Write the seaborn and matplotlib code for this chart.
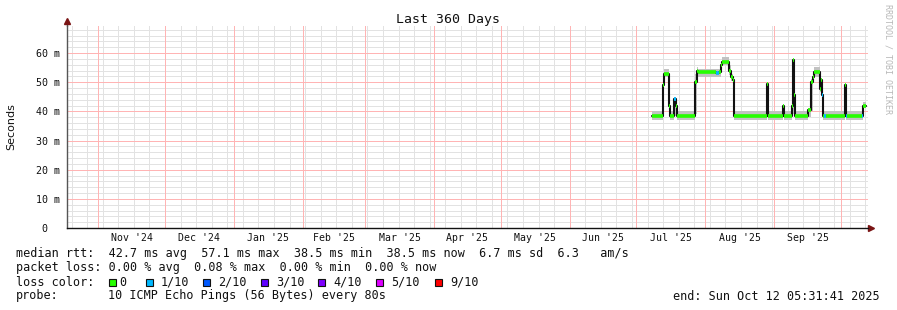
import numpy as np
import pandas as pd
import matplotlib
matplotlib.use("Agg")
import matplotlib.pyplot as plt
import matplotlib.dates as mdates
from matplotlib.transforms import blended_transform_factory
from matplotlib.patches import Rectangle
import seaborn as sns

# ---------------- data ----------------
sample_times = [
    "2025-07-07 21:00", "2025-07-12 18:00", "2025-07-13 10:00", "2025-07-15 19:00",
    "2025-07-16 03:00", "2025-07-18 01:00", "2025-07-18 14:00", "2025-07-19 01:00",
    "2025-07-27 08:00", "2025-07-28 01:00", "2025-07-28 17:00", "2025-08-05 19:00",
    "2025-08-07 04:00", "2025-08-07 20:00", "2025-08-08 12:00", "2025-08-11 10:00",
    "2025-08-12 08:00", "2025-08-13 05:00", "2025-08-13 21:00", "2025-08-28 12:00",
    "2025-08-28 23:00", "2025-09-04 20:00", "2025-09-05 07:00", "2025-09-08 21:00",
    "2025-09-09 11:00", "2025-09-10 00:00", "2025-09-10 11:00", "2025-09-16 07:00",
    "2025-09-17 10:00", "2025-09-18 08:00", "2025-09-19 00:00", "2025-09-21 11:00",
    "2025-09-21 22:00", "2025-09-22 09:00", "2025-09-22 19:00", "2025-09-23 12:00",
    "2025-09-24 06:00", "2025-10-02 14:00", "2025-10-03 01:00", "2025-10-03 18:00",
    "2025-10-10 06:00", "2025-10-10 20:00", "2025-10-11 02:00", "2025-10-12 05:30",
]
median_ms = [
    38.5, 49.0, 53.0, 42.0,
    38.5, 44.4, 42.0, 38.5,
    50.0, 53.8, 53.5, 53.3,
    53.5, 55.8, 57.0, 54.0,
    51.8, 50.7, 38.5, 49.5,
    38.5, 42.0, 38.5, 42.0,
    57.5, 45.5, 38.5, 40.4,
    50.1, 51.8, 53.5, 47.8,
    50.7, 45.5, 38.5, 38.5,
    38.5, 49.0, 38.5, 38.5,
    38.5, 38.5, 42.0, 42.0,
]
smoke_lo_ms = [
    37.0, 38.0, 51.8, 38.0,
    37.0, 38.5, 38.5, 37.0,
    39.0, 51.8, 51.8, 51.8,
    51.8, 54.0, 56.0, 52.5,
    50.5, 49.5, 37.0, 38.5,
    37.0, 38.5, 37.0, 38.5,
    39.0, 38.5, 37.0, 38.0,
    40.0, 50.0, 51.8, 46.5,
    46.0, 39.0, 37.0, 37.0,
    37.0, 38.5, 37.0, 37.0,
    37.0, 37.0, 41.0, 41.0,
]
smoke_hi_ms = [
    40.2, 53.0, 54.5, 53.0,
    40.2, 45.0, 43.0, 40.2,
    53.0, 55.2, 54.7, 54.7,
    54.7, 57.0, 58.5, 56.0,
    53.0, 52.0, 40.2, 50.0,
    40.2, 42.5, 40.2, 42.5,
    58.0, 46.0, 40.2, 41.0,
    51.0, 53.0, 55.2, 53.0,
    51.5, 46.5, 40.2, 40.2,
    40.2, 49.5, 40.2, 40.2,
    40.2, 40.2, 43.3, 43.3,
]
loss_level = [
    0, 0, 0, 0,
    0, 1, 0, 0,
    0, 0, 0, 1,
    0, 0, 0, 0,
    0, 0, 0, 0,
    0, 0, 0, 0,
    0, 0, 0, 0,
    0, 0, 0, 0,
    0, 1, 0, 1,
    0, 0, 1, 0,
    1, 0, 0, 0,
]

month_labels = ["Nov '24", "Dec '24", "Jan '25", "Feb '25", "Mar '25", "Apr '25",
                "May '25", "Jun '25", "Jul '25", "Aug '25", "Sep '25"]
month_starts = ["2024-11-01", "2024-12-01", "2025-01-01", "2025-02-01", "2025-03-01",
                "2025-04-01", "2025-05-01", "2025-06-01", "2025-07-01", "2025-08-01",
                "2025-09-01", "2025-10-01"]
y_ticks_ms = [0, 10, 20, 30, 40, 50, 60]
y_tick_labels = ["0", "10 m", "20 m", "30 m", "40 m", "50 m", "60 m"]

loss_names = ["0", "1/10", "2/10", "3/10", "4/10", "5/10", "9/10"]
loss_colors = ["#26ff00", "#00b8ff", "#0059ff", "#5e00ff", "#7e00ff", "#dd00ff", "#ff0000"]

legend_rows = [
    "median rtt:  42.7 ms avg  57.1 ms max  38.5 ms min  38.5 ms now  6.7 ms sd  6.3   am/s",
    "packet loss: 0.00 % avg  0.08 % max  0.00 % min  0.00 % now",
]
probe_text = "10 ICMP Echo Pings (56 Bytes) every 80s"
end_text = "end: Sun Oct 12 05:31:41 2025"

# ---------------- figure ----------------
sns.set_theme(style="white")
plt.rcParams["font.family"] = ["DejaVu Sans Mono", "DejaVu Sans"]

W, H = 897, 310
fig = plt.figure(figsize=(W / 100, H / 100), dpi=100, facecolor="white")
ax = fig.add_axes([67 / W, (H - 228) / H, (868 - 67) / W, (228 - 26) / H])
ax.set_facecolor("white")

t = pd.to_datetime(sample_times)
tn = mdates.date2num(t.to_pydatetime())
df = pd.DataFrame({"time": t, "median": median_ms})

x_left = pd.Timestamp("2024-11-01") - pd.Timedelta(days=14.08)
x_right = pd.Timestamp("2025-10-01") + pd.Timedelta(days=12.14)
ax.set_xlim(x_left, x_right)
ax.set_ylim(0, 69.3)

# grid: rrdtool draws 1px dotted lines; rendered as light solid lines of the same tone
minor_gray = "#e2e2e2"
major_red = "#ffb4b4"
gkw = dict(lw=0.72, ls="-", antialiased=False)
for yv in np.arange(2, 69.3, 2):
    if yv % 10 != 0:
        ax.axhline(yv, color=minor_gray, zorder=0, **gkw)
for yv in y_ticks_ms[1:]:
    ax.axhline(yv, color=major_red, zorder=0.5, **gkw)
ms_dt = pd.to_datetime(month_starts)
weeks = pd.date_range("2024-10-20", x_right, freq="7D")
for wk in weeks:
    if wk in set(ms_dt):
        continue
    ax.axvline(wk, color=minor_gray, zorder=0, **gkw)
for m in ms_dt:
    ax.axvline(m, color=major_red, zorder=0.5, **gkw)

# smoke
ax.fill_between(tn, smoke_lo_ms, smoke_hi_ms, step="post", color="#c2c2c2", lw=0, zorder=1)

# median line (black) via seaborn
sns.lineplot(data=df, x="time", y="median", drawstyle="steps-post", color="#111111",
             lw=1.5, ax=ax, zorder=2, estimator=None, sort=False)
# loss colored segments
seg_colors = [loss_colors[k] for k in loss_level[:-1]]
ax.hlines(median_ms[:-1], tn[:-1], tn[1:], colors=seg_colors, lw=2.6, zorder=3)

# axes styling
ax.set_xlabel("")
ax.set_ylabel("")
for s in ["top", "right"]:
    ax.spines[s].set_visible(False)
ax.spines["left"].set_color("#555555")
ax.spines["bottom"].set_color("#111111")
ax.spines["left"].set_linewidth(1.0)
ax.spines["bottom"].set_linewidth(1.0)
ax.set_xticks([])
ax.set_yticks(y_ticks_ms)
ax.set_yticklabels(y_tick_labels, family="DejaVu Sans Mono", fontsize=7.2, color="#111111")
ax.tick_params(axis="y", length=0, pad=5)
# rrdtool pads the unit-less zero label with blanks, so it sits further left
ax.get_yticklabels()[0].set_transform(
    ax.get_yticklabels()[0].get_transform()
    + matplotlib.transforms.ScaledTranslation(-13 / 100, 0, fig.dpi_scale_trans))

# month labels at mid-month
trans = blended_transform_factory(ax.transData, ax.transAxes)
for i, lab in enumerate(month_labels):
    mid = ms_dt[i] + (ms_dt[i + 1] - ms_dt[i]) / 2
    ax.text(mid, -10 / 202, lab, transform=trans, ha="center", va="center",
            fontsize=7.1, family="DejaVu Sans Mono", color="#111111")

# arrows
arrow_c = "#7a1414"
ax.plot([0, 0], [1.0, 1.02], color="#555555", lw=1.0, transform=ax.transAxes, clip_on=False)
ax.plot([0], [1.025], marker="^", ms=4.5, color=arrow_c, transform=ax.transAxes, clip_on=False)
ax.plot([1.0, 1.002], [0, 0], color="#111111", lw=1.0, transform=ax.transAxes, clip_on=False)
ax.plot([1.0035], [0], marker=">", ms=4.5, color=arrow_c, transform=ax.transAxes, clip_on=False)

# titles
def fx(px):
    return px / W

def fy(py):
    return 1 - py / H

fig.text(fx(448), fy(19), "Last 360 Days", ha="center", va="center", fontsize=9.5,
         family="DejaVu Sans Mono", color="#111111")
fig.text(fx(11), fy(127), "Seconds", rotation=90, ha="center", va="center", fontsize=8,
         family="DejaVu Sans", color="#111111")
fig.text(fx(887.5), fy(4), "RRDTOOL / TOBI OETIKER", rotation=270, ha="center", va="top",
         fontsize=6, family="DejaVu Sans Mono", color="#b8b8b8")

# legend area
lf = dict(family="DejaVu Sans Mono", fontsize=8.5, color="#111111", va="center", ha="left")
fig.text(fx(16), fy(254), legend_rows[0], **lf)
fig.text(fx(16), fy(268), legend_rows[1], **lf)
fig.text(fx(16), fy(282), "loss color:", **lf)
fig.text(fx(16), fy(296), "probe:", **lf)
fig.text(fx(108), fy(296), probe_text, **lf)
fig.text(fx(880), fy(296), end_text, family="DejaVu Sans Mono", fontsize=8.5,
         color="#111111", va="center", ha="right")

box_x = [109, 145.7, 203.3, 261, 318.3, 375.7, 435]
lab_x = [119, 160.3, 218.3, 276, 333.3, 390.7, 450]
for bx, lx, name, col in zip(box_x, lab_x, loss_names, loss_colors):
    fig.patches.append(Rectangle((fx(bx), fy(285.5)), 7 / W, 7 / H, transform=fig.transFigure,
                                 facecolor=col, edgecolor="#111111", lw=0.8))
    fig.text(fx(lx), fy(282), name, **lf)

fig.savefig("out.png", dpi=100, facecolor="white")
